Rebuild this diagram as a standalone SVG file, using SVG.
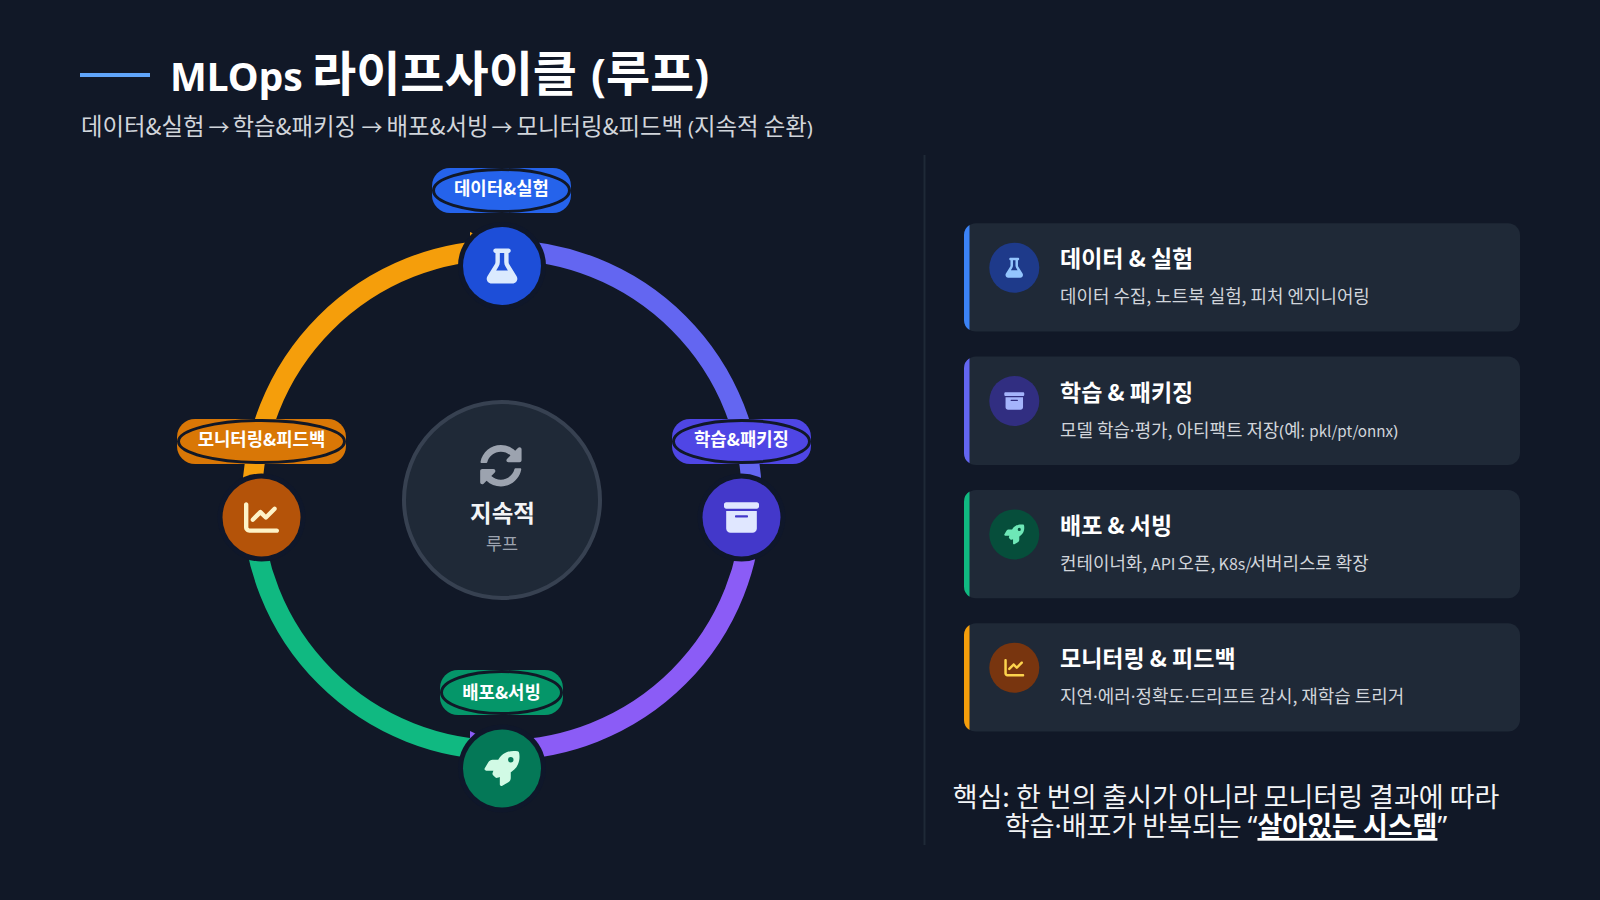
<svg xmlns="http://www.w3.org/2000/svg" width="1600" height="900" viewBox="0 0 1600 900">
<style>
text{font-family:"Noto Sans CJK KR","Noto Sans",sans-serif}
.l{font-family:"Noto Sans","Noto Sans CJK KR",sans-serif}
.lbl{font-size:17.8px;font-weight:700;fill:#fff;text-anchor:middle}
.ct{font-size:23px;font-weight:700;fill:#fff}
.cd{font-size:17.9px;fill:#d1d5db}
.ft{font-size:27px;fill:#f3f4f6;text-anchor:middle}
.ring{fill:none;stroke-width:20}
.halo{fill:#0f172a}
.lo{stroke:#111827;stroke-width:3}
.card{fill:#1f2937}
</style>
<defs>
<marker id="m1" markerUnits="userSpaceOnUse" markerWidth="44" markerHeight="40" refX="34" refY="20" orient="0"><path d="M2 2L42 20L2 38Z" fill="#f59e0b"/></marker>
<marker id="m2" markerUnits="userSpaceOnUse" markerWidth="44" markerHeight="40" refX="34" refY="20" orient="0"><path d="M2 1L42 20L2 39Z" fill="#8b5cf6"/></marker>
<path id="flask" d="M288 0H160 128C110.3 0 96 14.3 96 32s14.3 32 32 32V196.8c0 11.8-3.3 23.5-9.5 33.5L10.3 406.2C3.6 417.2 0 429.7 0 442.6C0 480.9 31.1 512 69.4 512H378.6c38.3 0 69.4-31.1 69.4-69.4c0-12.8-3.6-25.4-10.3-36.4L329.5 230.4c-6.2-10.1-9.5-21.7-9.5-33.5V64c17.7 0 32-14.3 32-32s-14.3-32-32-32H288zM192 196.8V64h64V196.8c0 23.7 6.6 46.9 19 67.1L309.5 320h-171L173 263.9c12.4-20.2 19-43.4 19-67.1z"/>
<path id="box" d="M32 32H480c17.7 0 32 14.3 32 32V96c0 17.7-14.3 32-32 32H32C14.3 128 0 113.7 0 96V64C0 46.3 14.3 32 32 32zm0 128H480V416c0 35.3-28.7 64-64 64H96c-35.3 0-64-28.7-64-64V160zm128 80c0 8.8 7.2 16 16 16H336c8.8 0 16-7.2 16-16s-7.2-16-16-16H176c-8.8 0-16 7.2-16 16z"/>
<path id="rocket" d="M156.6 384.9L125.7 354c-8.5-8.5-11.5-20.8-7.7-32.2c3-8.9 7-20.5 11.8-33.8L24 288c-8.6 0-16.6-4.6-20.9-12.1s-4.2-16.7 .2-24.1l52.5-88.5c13-21.9 36.5-35.3 61.9-35.3l82.3 0c2.4-4 4.8-7.7 7.2-11.3C289.1-4.1 411.1-8.1 483.9 5.3c11.6 2.1 20.6 11.2 22.8 22.8c13.4 72.9 9.3 194.8-111.4 276.7c-3.5 2.4-7.3 4.8-11.3 7.2v82.3c0 25.4-13.4 49-35.3 61.9l-88.5 52.5c-7.4 4.4-16.6 4.5-24.1 .2s-12.1-12.2-12.1-20.9V380.8c-14.1 4.9-26.4 8.9-35.7 11.9c-11.2 3.6-23.4 .5-31.8-7.8zM384 168a40 40 0 1 0 0-80 40 40 0 1 0 0 80z"/>
<path id="chart" d="M64 64c0-17.7-14.3-32-32-32S0 46.3 0 64V400c0 44.2 35.8 80 80 80H480c17.7 0 32-14.3 32-32s-14.3-32-32-32H80c-8.8 0-16-7.2-16-16V64zm406.6 86.6c12.5-12.5 12.5-32.8 0-45.3s-32.8-12.5-45.3 0L320 210.7l-57.4-57.4c-12.5-12.5-32.8-12.5-45.3 0l-112 112c-12.5 12.5-12.5 32.8 0 45.3s32.8 12.5 45.3 0L240 221.3l57.4 57.4c12.5 12.5 32.8 12.5 45.3 0l128-128z"/>
<path id="sync" d="M370.72 133.28C339.458 104.008 298.888 87.962 255.848 88c-77.458.068-144.328 53.178-162.791 126.85-1.344 5.363-6.122 9.15-11.651 9.15H24.103c-7.498 0-13.194-6.807-11.807-14.176C33.933 94.924 134.813 8 256 8c66.448 0 126.791 26.136 171.315 68.685L463.03 40.97C478.149 25.851 504 36.559 504 57.941V192c0 13.255-10.745 24-24 24H345.941c-21.382 0-32.09-25.851-16.971-40.971l41.75-41.749zM32 296h134.059c21.382 0 32.09 25.851 16.971 40.971l-41.75 41.75c31.262 29.273 71.835 45.319 114.876 45.28 77.418-.07 144.315-53.144 162.787-126.849 1.344-5.363 6.122-9.15 11.651-9.15h57.304c7.498 0 13.194 6.807 11.807 14.176C478.067 417.076 377.187 504 256 504c-66.448 0-126.791-26.136-171.315-68.685L48.97 471.03C33.851 486.149 8 475.441 8 454.059V320c0-13.255 10.745-24 24-24z"/>
<path id="bar" d="M5.5 1.6A12 12 0 0 0 0 11.7V96.6A12 12 0 0 0 5.5 106.7Z"/>
</defs>
<rect width="1600" height="900" fill="#111827"/>
<g id="title">
<rect x="80" y="73" width="70" height="4" fill="#60a5fa"/>
<text y="91" font-weight="700" fill="#fff"><tspan class="l" x="170" font-size="39">MLOps</tspan><tspan x="312" font-size="48">라이프사이클</tspan><tspan class="l" x="591" font-size="44">(</tspan><tspan font-size="48">루프</tspan><tspan class="l" font-size="44">)</tspan></text>
<text y="135" font-size="23.4" fill="#d1d5db"><tspan x="81">데이터&amp;실험</tspan><tspan x="208.5" font-size="21">→</tspan><tspan x="232.5">학습&amp;패키징</tspan><tspan x="361.5" font-size="21">→</tspan><tspan x="386.5">배포&amp;서빙</tspan><tspan x="491.5" font-size="21">→</tspan><tspan x="516.5">모니터링&amp;피드백</tspan><tspan x="688" class="l" font-size="20">(</tspan><tspan>지속적 순환</tspan><tspan class="l" font-size="20">)</tspan></text>
</g>
<g id="connectors">
<path class="ring" stroke="#f59e0b" d="M252 500A250 250 0 0 1 502 250" marker-end="url(#m1)"/>
<path class="ring" stroke="#8b5cf6" d="M752 500A250 250 0 0 1 502 750" marker-end="url(#m2)"/>
<path class="ring" stroke="#6366f1" d="M502 250A250 250 0 0 1 752 500"/>
<path class="ring" stroke="#10b981" d="M502 750A250 250 0 0 1 252 500"/>
</g>
<g id="center">
<circle cx="502" cy="500" r="98" fill="#1f2937" stroke="#374151" stroke-width="4"/>
<use href="#sync" transform="translate(479.5 444.3) scale(.0835)" fill="#9ca3af"/>
<text x="502.5" y="522" font-size="23.5" font-weight="700" fill="#f3f4f6" text-anchor="middle">지속적</text>
<text x="502" y="550" font-size="17.5" fill="#9ca3af" text-anchor="middle">루프</text>
</g>
<g id="node-data">
<rect x="432" y="168" width="139" height="45" rx="18" fill="#2563eb"/>
<ellipse cx="501.5" cy="190.5" rx="68" ry="21" fill="#2563eb" class="lo"/>
<text class="lbl" x="501.5" y="195">데이터&amp;실험</text>
<circle class="halo" cx="502" cy="266" r="44"/><circle cx="502" cy="266" r="39" fill="#1d4ed8"/>
<use href="#flask" transform="translate(486.7 248.5) scale(.0684)" fill="#dbeafe"/>
</g>
<g id="node-train">
<rect x="672" y="419" width="139" height="45" rx="18" fill="#4f46e5"/>
<ellipse cx="741.5" cy="441.5" rx="68" ry="21" fill="#4f46e5" class="lo"/>
<text class="lbl" x="741.5" y="446">학습&amp;패키징</text>
<circle class="halo" cx="741.5" cy="517.5" r="44"/><circle cx="741.5" cy="517.5" r="39" fill="#4338ca"/>
<use href="#box" transform="translate(724 500) scale(.0684)" fill="#e0e7ff"/>
</g>
<g id="node-deploy">
<rect x="440" y="670" width="123" height="45" rx="18" fill="#059669"/>
<ellipse cx="501.5" cy="692.5" rx="60" ry="21" fill="#059669" class="lo"/>
<text class="lbl" x="501.5" y="698.5">배포&amp;서빙</text>
<circle class="halo" cx="502" cy="768.5" r="44"/><circle cx="502" cy="768.5" r="39" fill="#047857"/>
<use href="#rocket" transform="translate(484.5 751) scale(.0684)" fill="#d1fae5"/>
</g>
<g id="node-monitor">
<rect x="177" y="419" width="169" height="45" rx="18" fill="#d97706"/>
<ellipse cx="261.5" cy="441.5" rx="83" ry="21" fill="#d97706" class="lo"/>
<text class="lbl" x="261.5" y="446">모니터링&amp;피드백</text>
<circle class="halo" cx="261.5" cy="517.5" r="44"/><circle cx="261.5" cy="517.5" r="39" fill="#b45309"/>
<use href="#chart" transform="translate(244 500) scale(.0684)" fill="#fef3c7"/>
</g>
<rect id="divider" x="923.5" y="155" width="2" height="690" fill="#1f2937"/>
<g id="card-data" transform="translate(964 223.3)">
<rect class="card" width="556" height="108.3" rx="12"/><use href="#bar" fill="#3b82f6"/>
<circle cx="50.3" cy="44.4" r="25" fill="#1e3a8a"/>
<use href="#flask" transform="translate(41.5 34.4) scale(.039)" fill="#93c5fd"/>
<text class="ct" x="96" y="44">데이터 &amp; 실험</text>
<text class="cd" x="96" y="80">데이터 수집, 노트북 실험, 피처 엔지니어링</text>
</g>
<g id="card-train" transform="translate(964 356.6)">
<rect class="card" width="556" height="108.3" rx="12"/><use href="#bar" fill="#6366f1"/>
<circle cx="50.3" cy="44.4" r="25" fill="#312e81"/>
<use href="#box" transform="translate(40.3 34.4) scale(.039)" fill="#a5b4fc"/>
<text class="ct" x="96" y="44">학습 &amp; 패키징</text>
<text class="cd" x="96" y="80">모델 학습<tspan class="l">·</tspan>평가, 아티팩트 저장<tspan class="l" font-size="16">(</tspan>예<tspan class="l" font-size="16">:</tspan> <tspan font-size="15.2" x="345.3">pkl/pt/onnx</tspan><tspan class="l" font-size="16">)</tspan></text>
</g>
<g id="card-deploy" transform="translate(964 490)">
<rect class="card" width="556" height="108.3" rx="12"/><use href="#bar" fill="#10b981"/>
<circle cx="50.3" cy="44.4" r="25" fill="#064e3b"/>
<use href="#rocket" transform="translate(40.3 34.4) scale(.039)" fill="#6ee7b7"/>
<text class="ct" x="96" y="44">배포 &amp; 서빙</text>
<text class="cd" x="96" y="80">컨테이너화, <tspan font-size="16" x="187">API</tspan> <tspan x="213.5">오픈,</tspan> <tspan font-size="16" x="254.6">K8s/</tspan><tspan x="285.5">서버리스로 확장</tspan></text>
</g>
<g id="card-monitor" transform="translate(964 623.3)">
<rect class="card" width="556" height="108.3" rx="12"/><use href="#bar" fill="#f59e0b"/>
<circle cx="50.3" cy="44.4" r="25" fill="#78350f"/>
<use href="#chart" transform="translate(40.3 34.4) scale(.039)" fill="#fcd34d"/>
<text class="ct" x="96" y="44">모니터링 &amp; 피드백</text>
<text class="cd" x="96" y="80">지연<tspan class="l">·</tspan>에러<tspan class="l">·</tspan>정확도<tspan class="l">·</tspan>드리프트 감시, 재학습 트리거</text>
</g>
<g id="footer">
<text class="ft" x="1226" y="806.5">핵심: 한 번의 출시가 아니라 모니터링 결과에 따라</text>
<text class="ft" x="1226" y="836">학습<tspan class="l">·</tspan>배포가 반복되는 <tspan class="l">“</tspan><tspan font-weight="700" fill="#fff" text-decoration="underline">살아있는 시스템</tspan><tspan class="l">”</tspan></text>
</g>
</svg>
